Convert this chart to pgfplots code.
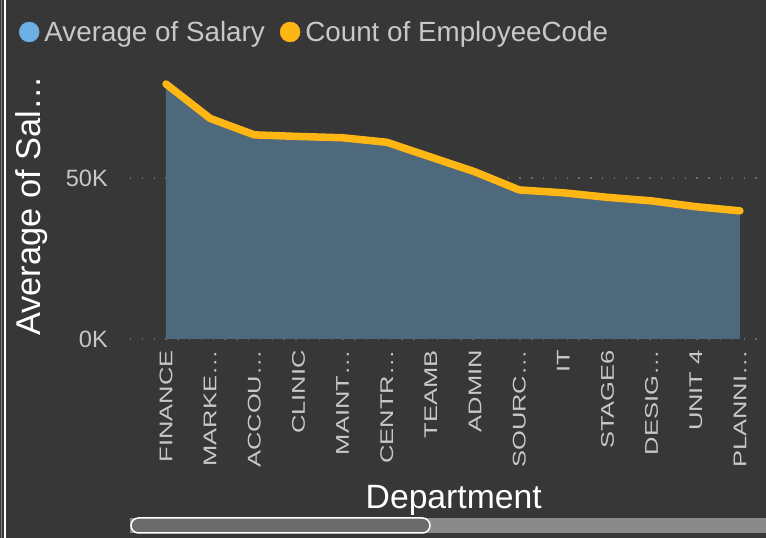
\documentclass[border=0pt]{standalone}
\usepackage{fontspec}
\setmainfont{Liberation Sans}
\usepackage{graphicx}
\usepackage{pgfplots}
\pgfplotsset{compat=1.18}
\definecolor{bg}{HTML}{373737}
\definecolor{areaf}{HTML}{4E687C}
\definecolor{salblue}{HTML}{6CB0E4}
\definecolor{cntor}{HTML}{FDB614}
\definecolor{ticktxt}{HTML}{C8C8C8}
\definecolor{gridc}{HTML}{6A6A6A}
\definecolor{track}{HTML}{8A8A8A}
\definecolor{thumb}{HTML}{6B6B6B}
\newcommand\sq[1]{\scalebox{1}[0.72]{#1}}
\pgfplotstableread{
x sal cnt
0 78.6 79.2
1 68.0 68.5
2 62.9 63.4
3 62.4 62.9
4 61.9 62.5
5 60.6 61.1
6 56.0 56.5
7 51.4 51.9
8 45.6 46.3
9 44.8 45.4
10 43.3 44.0
11 42.3 42.9
12 40.6 41.1
13 39.3 39.8
}\datatab
\begin{document}
\begin{tikzpicture}[x=1pt,y=1pt]
\fill[bg] (0,0) rectangle (766,538);
\draw[gray, line width=1pt] (1,0) -- (1,538);
\draw[white, line width=1.5pt] (5,0) -- (5,538);
\begin{axis}[
  at={(130pt,199pt)}, anchor=south west,
  scale only axis, width=636pt, height=273.7pt,
  xmin=-0.815, xmax=13.59, ymin=0, ymax=85,
  clip=false,
  axis line style={draw=none}, major tick length=0pt,
  ytick={0,50}, yticklabels={0K,50K},
  xtick={0,...,13},
  xticklabels={\sq{FINANCE},\sq{MARKE\ldots},\sq{ACCOU\ldots},\sq{CLINIC},\sq{MAINT\ldots},\sq{CENTR\ldots},\sq{TEAMB},\sq{ADMIN},\sq{SOURC\ldots},\sq{IT},\sq{STAGE6},\sq{DESIG\ldots},\sq{UNIT 4},\sq{PLANNI\ldots}},
  ymajorgrids,
  major grid style={gridc, line width=1.3pt, dash pattern=on 1.3pt off 10.5pt},
  /pgf/number format/assume math mode=true,
  yticklabel style={font=\fontsize{23.6}{25}\selectfont, text=ticktxt, anchor=east, inner sep=0pt, xshift=-22pt},
  xticklabel style={font=\fontsize{25.5}{27}\selectfont, text=ticktxt, rotate=90, anchor=east, inner sep=0pt, xshift=-11pt},
  ylabel={Average of Sal…},
  ylabel style={font=\fontsize{34.4}{36}\selectfont, text=white, at={(axis description cs:-0.154,0.485)}, anchor=center},
  xlabel={Department},
  xlabel style={font=\fontsize{33.7}{35}\selectfont, text=white, at={(axis description cs:0.509,-0.59)}, anchor=center},
  legend style={at={(axis description cs:-0.1745,1.1217)}, anchor=west, draw=none, fill=none,
    inner sep=0pt, outer sep=0pt, column sep=5pt,
    font=\fontsize{27.8}{29}\selectfont, text=ticktxt,
    nodes={inner sep=0pt},
    /tikz/every even column/.append style={column sep=15pt}},
  legend columns=2,
]
\addlegendimage{legend image code/.code={\fill[salblue] (10pt,0pt) circle (10pt);}}
\addlegendentry{Average of Salary}
\addlegendimage{legend image code/.code={\fill[cntor] (10pt,0pt) circle (10pt);}}
\addlegendentry{Count of EmployeeCode}
\addplot[fill=areaf, draw=none, forget plot] table[x=x,y=sal]{\datatab} \closedcycle;
\addplot[salblue, line width=2pt, forget plot] table[x=x,y=sal]{\datatab};
\addplot[cntor, line width=7.5pt, line join=round, line cap=round, forget plot] table[x=x,y=cnt]{\datatab};
\end{axis}
\fill[track] (130,5) rectangle (766,20);
\filldraw[fill=thumb, draw=white, line width=1.5pt, rounded corners=7.5pt] (131,5) rectangle (430,20);
\pgfresetboundingbox
\useasboundingbox (0,0) rectangle (766,538);
\end{tikzpicture}
\end{document}
